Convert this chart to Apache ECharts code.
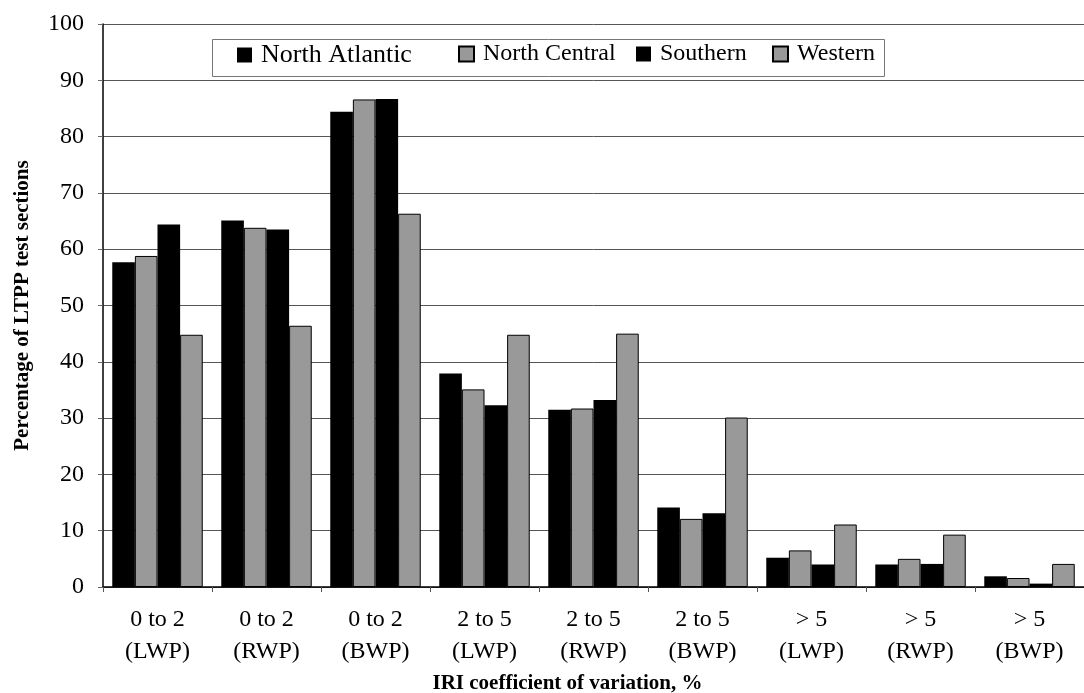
<!DOCTYPE html>
<html><head><meta charset="utf-8">
<script src="https://cdn.jsdelivr.net/npm/echarts@6/dist/echarts.min.js"></script>
<style>html,body{margin:0;padding:0;background:#fff}#c{width:1084px;height:693px}</style>
</head><body><div id="c"></div>
<script>
const categories = ['0 to 2\n(LWP)','0 to 2\n(RWP)','0 to 2\n(BWP)','2 to 5\n(LWP)','2 to 5\n(RWP)','2 to 5\n(BWP)','> 5\n(LWP)','> 5\n(RWP)','> 5\n(BWP)'];
const northAtlantic = [57.7, 65.1, 84.4, 37.9, 31.5, 14.1, 5.2, 4.0, 1.9];
const northCentral  = [58.8, 63.8, 86.6, 35.1, 31.7, 12.1, 6.5, 5.0, 1.6];
const southern      = [64.4, 63.5, 86.7, 32.3, 33.2, 13.1, 4.0, 4.1, 0.6];
const western       = [44.8, 46.4, 66.3, 44.8, 45.0, 30.1, 11.1, 9.3, 4.1];
const seriesNames = ['North Atlantic','North Central','Southern','Western'];
const yTicks = {min:0, max:100, interval:10};

const font = '"Liberation Serif", "Times New Roman", serif';
const black = '#000', gray = '#999';
const styles = [
  {color: black},
  {color: gray, borderColor: '#000', borderWidth: 1},
  {color: black},
  {color: gray, borderColor: '#000', borderWidth: 1}
];
const dataArr = [northAtlantic, northCentral, southern, western];
const legendLefts = [237, 458, 636, 772];
const legendSizes = [26, 24, 24, 24];

const chart = echarts.init(document.getElementById('c'), null, {renderer:'canvas'});
chart.setOption({
  animation: false,
  backgroundColor: '#fff',
  grid: {left: 103, right: 0, top: 24, bottom: 106, containLabel: false, outerBoundsMode: 'none'},
  graphic: [{type:'rect', left: 210, top: 37, shape:{width: 672, height: 37},
    style:{fill:'none', stroke:'#777', lineWidth:1}, z: 5}],
  legend: seriesNames.map((n,i)=>({
    data:[{name:n, icon:'rect'}], left: legendLefts[i], top: 42, itemWidth: 15, itemHeight: 15, itemGap: 0,
    padding: 0, textStyle:{fontFamily: font, fontSize: legendSizes[i], color:'#000', padding:[0,0,0,4]}
  })),
  xAxis: {
    type:'category', data: categories,
    axisLine:{show:true, lineStyle:{color:'#000', width:1.5}},
    axisTick:{show:true, alignWithLabel:false, length:5, lineStyle:{color:'#555'}},
    axisLabel:{fontFamily: font, fontSize: 24, color:'#000', margin: 17, lineHeight: 32, interval:0},
    name:'IRI coefficient of variation, %', nameLocation:'middle', nameGap: 83,
    nameTextStyle:{fontFamily: font, fontSize: 21, fontWeight:'bold', color:'#000', padding:[0,52,0,0]}
  },
  yAxis: {
    type:'value', min: yTicks.min, max: yTicks.max, interval: yTicks.interval,
    axisLine:{show:true, lineStyle:{color:'#000', width:1.5}},
    axisTick:{show:true, length:5, lineStyle:{color:'#666'}},
    axisLabel:{fontFamily: font, fontSize: 24, color:'#000', margin: 19},
    splitLine:{show:true, lineStyle:{color:'#555', width:1}},
    name:'Percentage of LTPP test sections', nameLocation:'middle', nameGap: 70, nameRotate: 90,
    nameTextStyle:{fontFamily: font, fontSize: 21, fontWeight:'bold', color:'#000'}
  },
  series: seriesNames.map((n,i)=>({
    name: n, type:'bar', data: dataArr[i], barGap: '0%', barCategoryGap: '17%',
    itemStyle: styles[i]
  }))
});
</script></body></html>
